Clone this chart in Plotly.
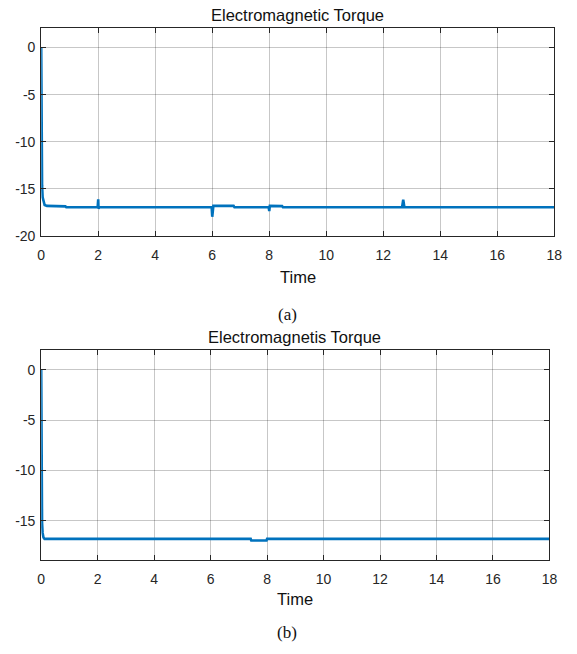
import plotly.graph_objects as go

# Electromagnetic torque response, case (a)
time_a = [0, 0.004, 0.015, 0.03, 0.05, 0.08, 0.12, 0.2, 0.5, 0.85, 0.88,
          1.98, 2.0, 2.01, 2.03, 2.05, 5.98, 6.0, 6.02, 6.04, 6.75, 6.78,
          7.98, 8.0, 8.02, 8.05, 8.45, 8.48, 12.66, 12.7, 12.74, 18]
torque_a = [0, -8.0, -11.8, -14.6, -15.9, -16.45, -16.7, -16.8, -16.82, -16.85, -16.95,
            -16.95, -16.1, -17.1, -16.95, -16.95, -16.95, -17.95, -16.8, -16.78, -16.8, -16.95,
            -16.95, -17.35, -16.8, -16.8, -16.82, -16.95, -16.95, -16.15, -16.95, -16.95]

# Electromagnetic torque response, case (b)
time_b = [0, 0.004, 0.015, 0.03, 0.05, 0.08, 0.12, 7.42, 7.44, 7.98, 8.0, 18]
torque_b = [0, -7.5, -11.4, -15.2, -16.2, -16.65, -16.8, -16.8, -16.95, -16.95, -16.8, -16.8]

x_ticks = [0, 2, 4, 6, 8, 10, 12, 14, 16, 18]
y_ticks = [0, -5, -10, -15, -20]
y_tick_text = ["0", "-5", "-10", "-15", "-20"]

W, H = 577, 654
LINE_BLUE = "#0072BD"
FONT = "Liberation Sans, Arial, sans-serif"
SERIF = "Liberation Serif, Times New Roman, serif"


def px_x(p):
    return p / W


def px_y(p):
    return 1 - p / H


fig = go.Figure()
fig.add_trace(go.Scatter(x=time_a, y=torque_a, mode="lines",
                         line=dict(color=LINE_BLUE, width=2.6),
                         xaxis="x", yaxis="y", showlegend=False))
fig.add_trace(go.Scatter(x=time_b, y=torque_b, mode="lines",
                         line=dict(color=LINE_BLUE, width=2.6),
                         xaxis="x2", yaxis="y2", showlegend=False))

axis_common = dict(
    showline=True, linecolor="#262626", linewidth=1, mirror="allticks",
    ticks="inside", ticklen=5, tickcolor="#262626",
    showgrid=True, gridcolor="rgba(0,0,0,0.22)", gridwidth=1,
    zeroline=False, tickfont=dict(family=FONT, size=14, color="#262626"),
)

fig.update_layout(
    width=W, height=H,
    margin=dict(l=0, r=0, t=0, b=0),
    paper_bgcolor="white", plot_bgcolor="white",
    xaxis=dict(domain=[px_x(38), px_x(562)], range=[0, 18], tickvals=x_ticks,
               anchor="y", ticklabelstandoff=6, **axis_common),
    yaxis=dict(domain=[px_y(239), px_y(28)], range=[-20, 2.1], tickvals=y_ticks,
               ticktext=y_tick_text, anchor="x", ticklabelstandoff=2, **axis_common),
    xaxis2=dict(domain=[px_x(38), px_x(557)], range=[0, 18], tickvals=x_ticks,
                anchor="y2", ticklabelstandoff=6, **axis_common),
    yaxis2=dict(domain=[px_y(567), px_y(354)], range=[-18.9, 2.0], tickvals=y_ticks[:4],
                ticktext=y_tick_text[:4], anchor="x2", ticklabelstandoff=2, **axis_common),
)

annotations = [
    dict(text="Electromagnetic Torque", x=px_x(300), y=px_y(15), size=16.5, family=FONT),
    dict(text="Time", x=px_x(300), y=px_y(280), size=16.5, family=FONT),
    dict(text="(a)", x=px_x(290), y=px_y(318), size=17, family=SERIF),
    dict(text="Electromagnetis Torque", x=px_x(297), y=px_y(341), size=16.5, family=FONT),
    dict(text="Time", x=px_x(297), y=px_y(606), size=16.5, family=FONT),
    dict(text="(b)", x=px_x(289), y=px_y(640), size=17, family=SERIF),
]
for a in annotations:
    fig.add_annotation(text=a["text"], x=a["x"], y=a["y"], xref="paper", yref="paper",
                       xanchor="center", yanchor="middle", showarrow=False,
                       font=dict(family=a["family"], size=a["size"], color="#111111"))

fig.write_html("out.html")
